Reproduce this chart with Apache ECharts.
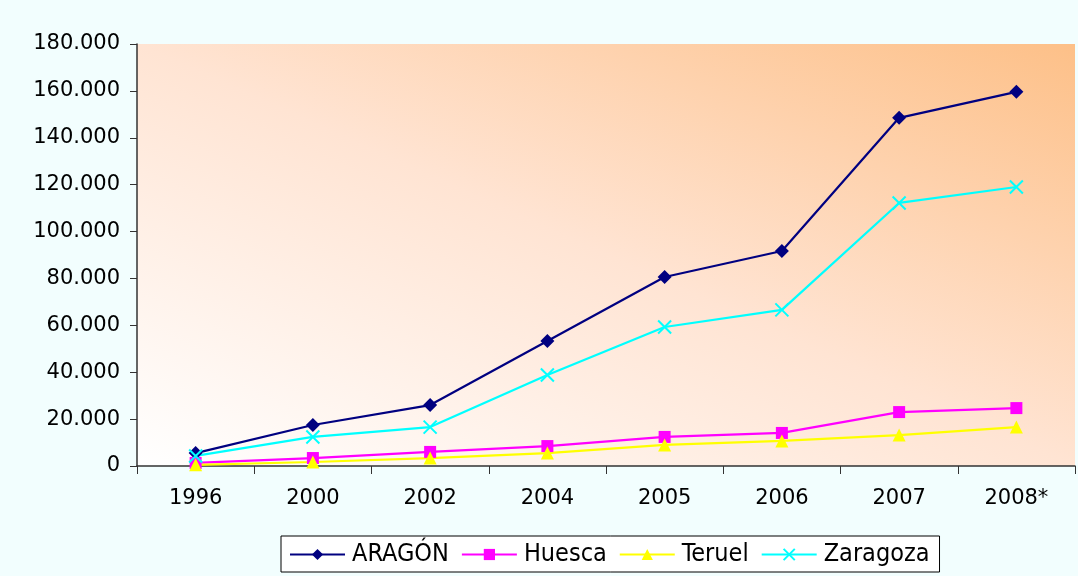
<!DOCTYPE html>
<html>
<head>
<meta charset="utf-8">
<title>Aragón</title>
<style>
  html, body { margin: 0; padding: 0; background: #F2FEFE; }
  #container { width: 1078px; height: 576px; }
</style>
</head>
<body>
<div id="container"></div>
<script src="https://cdn.jsdelivr.net/npm/echarts@6/dist/echarts.min.js"></script>
<script>
var years = ['1996', '2000', '2002', '2004', '2005', '2006', '2007', '2008*'];
var aragon = [5500, 17500, 26000, 53300, 80600, 91700, 148500, 159600];
var huesca = [1300, 3400, 6000, 8500, 12400, 14100, 23000, 24700];
var teruel = [500, 1700, 3400, 5500, 9000, 10700, 13200, 16600];
var zaragoza = [4300, 12400, 16600, 38800, 59300, 66600, 112200, 119000];

var cross = 'path://M0,0L10,10M10,0L0,10';

function fmt(v) {
    return String(v).replace(/\B(?=(\d{3})+(?!\d))/g, '.');
}

// diagonal fill, pale at lower left, orange at upper right
var bg = new echarts.graphic.LinearGradient(448, 606, 764, -96, [
    { offset: 0, color: '#FFFFFF' },
    { offset: 0.5, color: '#FFE4D3' },
    { offset: 1, color: '#FDC088' }
], true);

var myChart = echarts.init(document.getElementById('container'));
var option = {
    backgroundColor: '#F2FEFE',
    textStyle: { fontFamily: 'DejaVu Sans', color: '#000' },
    grid: {
        left: 137, right: 3, top: 44, bottom: 110,
        show: true,
        borderWidth: 0,
        backgroundColor: bg
    },
    legend: {
        top: 536,
        left: 281,
        backgroundColor: '#FFFFFF',
        borderColor: '#000',
        borderWidth: 1,
        borderRadius: 0,
        padding: [6, 10, 5, 8],
        itemGap: 12,
        itemWidth: 55,
        itemHeight: 14,
        textStyle: { fontSize: 25, fontFamily: 'DejaVu Sans Condensed', color: '#000', padding: [2, 0, 0, 2] },
        data: ['ARAGÓN', 'Huesca', 'Teruel', 'Zaragoza']
    },
    xAxis: {
        type: 'category',
        data: years,
        boundaryGap: true,
        axisLine: { lineStyle: { color: '#333', width: 1.5 } },
        axisTick: { show: true, length: 8, lineStyle: { color: '#333' } },
        axisLabel: { fontSize: 21, color: '#000', margin: 22 }
    },
    yAxis: {
        type: 'value',
        min: 0,
        max: 180000,
        interval: 20000,
        axisLine: { show: true, lineStyle: { color: '#333', width: 1.5 } },
        axisTick: { show: true, length: 7, lineStyle: { color: '#333' } },
        splitLine: { show: false },
        axisLabel: { fontSize: 21, color: '#000', margin: 17, formatter: fmt }
    },
    series: [
        {
            name: 'ARAGÓN', type: 'line', data: aragon,
            symbol: 'diamond', symbolSize: 14,
            lineStyle: { color: '#000080', width: 2.2 },
            itemStyle: { color: '#000080' }
        },
        {
            name: 'Huesca', type: 'line', data: huesca,
            symbol: 'rect', symbolSize: 12,
            lineStyle: { color: '#FF00FF', width: 2.2 },
            itemStyle: { color: '#FF00FF' }
        },
        {
            name: 'Teruel', type: 'line', data: teruel,
            symbol: 'triangle', symbolSize: 13,
            lineStyle: { color: '#FFFF00', width: 2.2 },
            itemStyle: { color: '#FFFF00' }
        },
        {
            name: 'Zaragoza', type: 'line', data: zaragoza,
            symbol: cross, symbolSize: 13,
            lineStyle: { color: '#00FFFF', width: 2.2 },
            itemStyle: { color: '#00FFFF', borderColor: '#00FFFF', borderWidth: 2 }
        }
    ]
};
myChart.setOption(option);
</script>
</body>
</html>
